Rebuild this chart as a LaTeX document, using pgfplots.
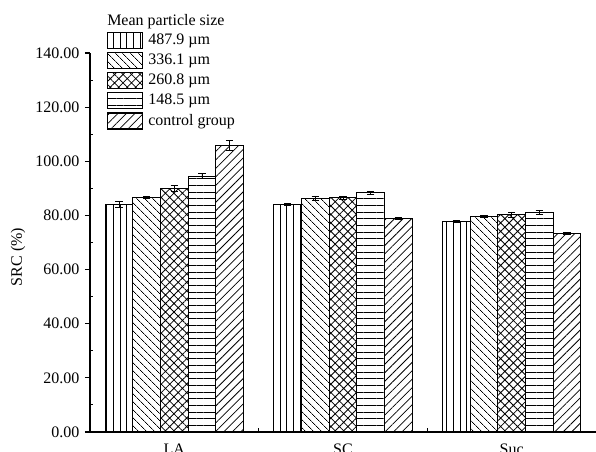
\documentclass[border=0pt]{standalone}
\usepackage{fontspec}
\setmainfont{Liberation Serif}
\usepackage{pgfplots}
\pgfplotsset{compat=1.18}
\usetikzlibrary{patterns.meta}
\begin{document}
\fontsize{12pt}{14pt}\selectfont
\begin{tikzpicture}[font=\fontsize{12pt}{14pt}\selectfont]
\begin{axis}[
  scale only axis,
  width=379.5pt, height=284.25pt,
  xmin=0.5, xmax=3.5, ymin=0, ymax=140,
  enlargelimits=false,
  clip=false,
  axis lines*=left,
  axis line style={line width=0.8pt},
  ybar=0pt, bar width=0.164,
  xtick={1,2,3},
  xticklabels={LA,SC,Suc},
  major x tick style={draw=none},
  minor xtick={1.5,2.5},
  minor x tick style={yshift=3pt},
  ytick={0,20,...,140},
  minor ytick={10,30,...,130},
  minor y tick style={xshift=2.6pt},
  tick align=outside,
  major tick length=3.75pt,
  minor tick length=2.6pt,
  every tick/.style={black, line width=0.8pt},
  /pgf/number format/assume math mode=true,
  yticklabel style={/pgf/number format/.cd, fixed, fixed zerofill, precision=2},
  xticklabel style={yshift=-1pt},
  ylabel={SRC (\%)},
  every axis y label/.style={at={(axis description cs:-0.142,0.462)}, rotate=90, anchor=center},
  legend style={draw=none, fill=none, inner sep=0pt, at={(rel axis cs:0.0336,1.0554)}, anchor=north west,
    nodes={inner sep=1.5pt}, row sep=2.2pt, /tikz/every odd column/.append style={column sep=2.5pt}},
  legend cell align=left,
  every axis plot post/.append style={legend image code/.code={\draw[##1, line width=0.8pt] (0pt,-6pt) rectangle (26pt,6pt);}},
  error bars/y dir=both, error bars/y explicit,
  error bars/error bar style={black, line width=0.6pt},
  error bars/error mark options={black, line width=0.6pt, mark size=2.75pt, rotate=90},
]
\addplot[draw=black, line width=0.8pt, fill=white, postaction={pattern={Lines[angle=90,distance=5pt,line width=0.6pt]}}]
  coordinates {(1,84.2) +- (0,1.1) (2,84.0) +- (0,0.4) (3,77.9) +- (0,0.4)};
\addlegendentry{487.9 µm}
\addplot[draw=black, line width=0.8pt, fill=white, postaction={pattern={Lines[angle=-45,distance=4pt,line width=0.6pt]}}]
  coordinates {(1,86.6) +- (0,0.4) (2,86.2) +- (0,0.7) (3,79.6) +- (0,0.4)};
\addlegendentry{336.1 µm}
\addplot[draw=black, line width=0.8pt, fill=white, postaction={pattern={Hatch[angle=45,distance=4.5pt,line width=0.6pt]}}]
  coordinates {(1,89.9) +- (0,1.1) (2,86.6) +- (0,0.6) (3,80.3) +- (0,1.0)};
\addlegendentry{260.8 µm}
\addplot[draw=black, line width=0.8pt, fill=white, postaction={pattern={Lines[angle=0,distance=5pt,line width=0.6pt]}}]
  coordinates {(1,94.5) +- (0,0.9) (2,88.3) +- (0,0.4) (3,81.1) +- (0,0.6)};
\addlegendentry{148.5 µm}
\addplot[draw=black, line width=0.8pt, fill=white, postaction={pattern={Lines[angle=45,distance=4.5pt,line width=0.6pt]}}]
  coordinates {(1,105.9) +- (0,1.7) (2,79.0) +- (0,0.4) (3,73.3) +- (0,0.3)};
\addlegendentry{control group}
\coordinate (ll) at (rel axis cs:0,0);
\coordinate (ur) at (rel axis cs:1,1);
\node[anchor=south west, inner sep=0pt] at (rel axis cs:0.0336,1.063) {Mean particle size};
\end{axis}
\pgfresetboundingbox
\path ([xshift=-67.5pt,yshift=-15pt]ll) rectangle ([yshift=39.75pt]ur);
\end{tikzpicture}
\end{document}
